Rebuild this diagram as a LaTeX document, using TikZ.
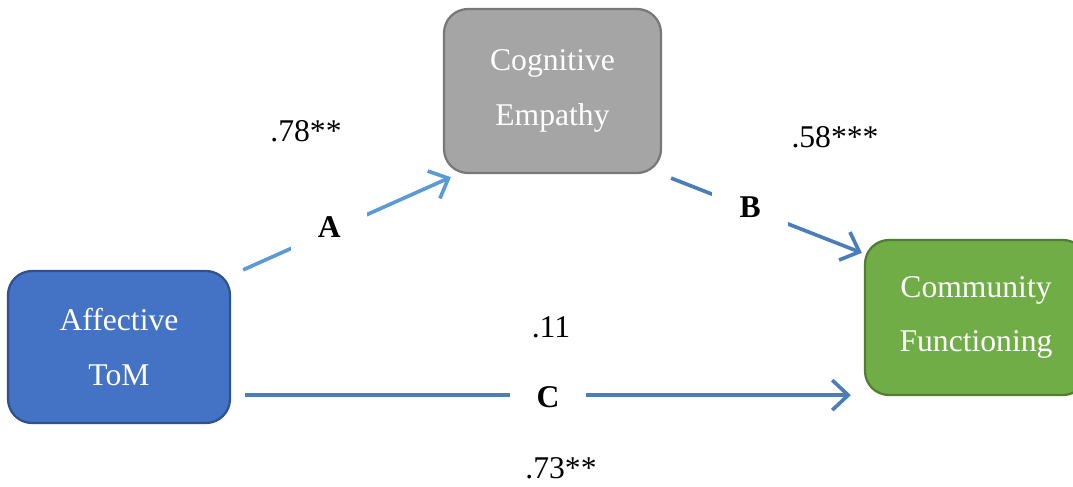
\documentclass[tikz,border=0pt]{standalone}
\usepackage{fontspec}
\setmainfont{Liberation Serif}
\usepackage{xcolor}
\usetikzlibrary{arrows.meta}

\definecolor{tomblue}{HTML}{4472C4}
\definecolor{tomedge}{HTML}{2F528F}
\definecolor{empgray}{HTML}{A5A5A5}
\definecolor{empedge}{HTML}{787878}
\definecolor{comgreen}{HTML}{70AD47}
\definecolor{comedge}{HTML}{507E32}
\definecolor{lightlink}{HTML}{5B9BD5}
\definecolor{darklink}{HTML}{4A7EBB}

\begin{document}
\begin{tikzpicture}[
      box/.style={line width=1.6pt, rounded corners=0.6cm, text=white, align=center,
        font=\fontsize{22.5}{39}\selectfont},
      link/.style={line width=2.6pt, -{Straight Barb[length=0.4cm, width=0.75cm, line width=2.6pt]}},
      gap/.style={fill=white, minimum width=1.9cm, minimum height=1.2cm, inner sep=0pt,
        font=\fontsize{22.5}{27}\selectfont\bfseries, text=black},
      coef/.style={font=\fontsize{22.5}{27}\selectfont}
    ]
    \clip (0,0) rectangle (26.825,12.15);

    % Affective ToM
    \node[box, fill=tomblue, draw=tomedge, minimum width=5.55cm, minimum height=3.8cm]
      (tom) at (2.975,3.475) {Affective\\ToM};

    % Cognitive Empathy
    \node[box, fill=empgray, draw=empedge, minimum width=5.425cm, minimum height=4.1cm]
      (emp) at (13.8125,9.875) {Cognitive\\Empathy};

    % Community Functioning
    \node[box, fill=comgreen, draw=comedge, minimum width=5.55cm, minimum height=3.875cm]
      (com) at (24.4,4.2125) {Community\\Functioning};

    % paths A, B, C
    \draw[link, lightlink] ([xshift=0.3cm]tom.north east)
      -- node[gap, pos=0.415, yshift=0.1cm] (pa) {A} ([xshift=0.2cm, yshift=-0.075cm]emp.south west);
    \draw[link, darklink] ([xshift=0.225cm, yshift=-0.1cm]emp.south east)
      -- node[gap, pos=0.415, yshift=0.05cm] (pb) {B} ([xshift=-0.05cm, yshift=-0.35cm]com.north west);
    \draw[link, darklink] ([xshift=0.35cm, yshift=0.725cm]tom.south east)
      -- node[gap, pos=0.5, yshift=-0.05cm] (pc) {C} ([xshift=-0.325cm, yshift=0.725cm]tom.south east -| com.west);

    % coefficients
    \node[coef] (ca) at (7.65,8.875) {.78**};
    \node[coef] (cb) at (20.875,8.725) {.58***};
    \node[coef] (cc) at (13.775,3.975) {.11};
    \node[coef] (cd) at (14.025,0.45) {.73**};
  \end{tikzpicture}
\end{document}
